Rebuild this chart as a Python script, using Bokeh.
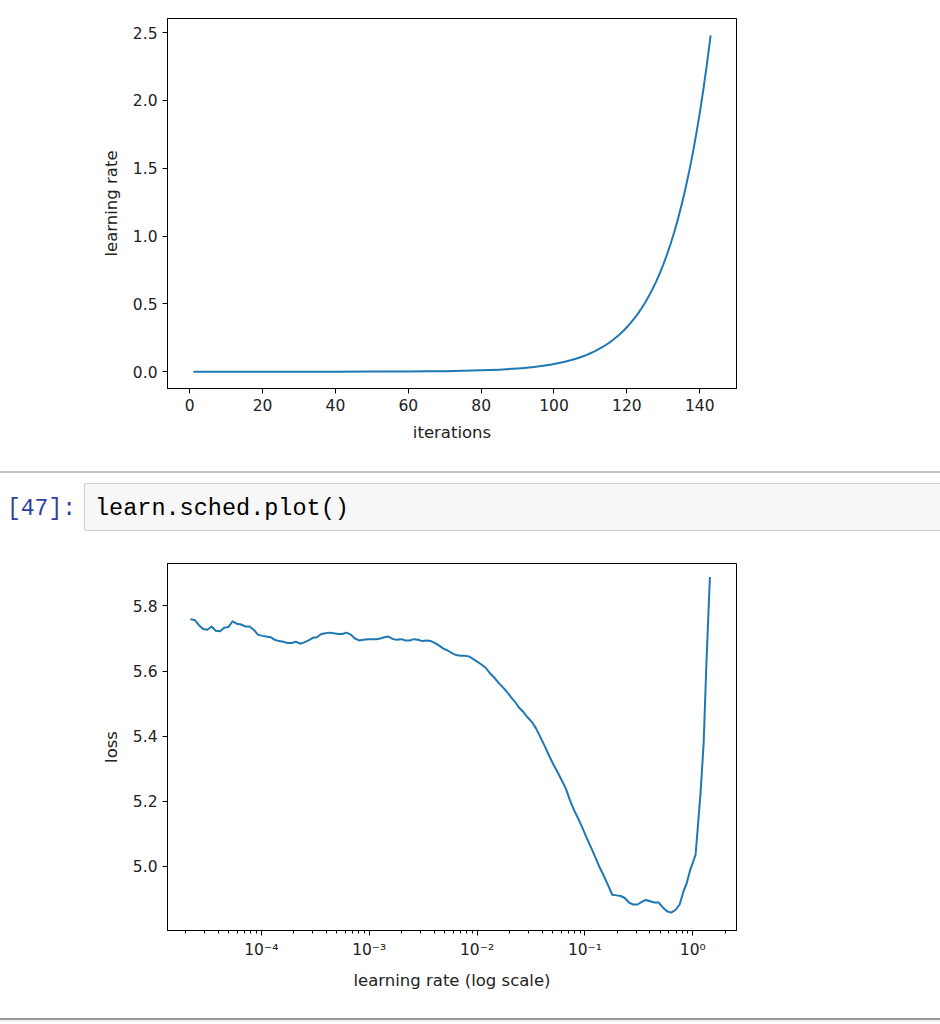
from bokeh.plotting import figure
from bokeh.layouts import column
from bokeh.models import (Range1d, FixedTicker, NumeralTickFormatter,
                          CustomJSTickFormatter, Div)
from bokeh.embed import file_html
from bokeh.resources import INLINE

# ---------------- data ----------------
# learning-rate schedule (top chart)
iterations = [1, 10, 20, 30, 40, 50, 60, 65, 70, 75, 80, 85,
              90, 91, 92, 93, 94, 95, 96, 97, 98, 99,
              100, 101, 102, 103, 104, 105, 106, 107, 108, 109,
              110, 111, 112, 113, 114, 115, 116, 117, 118, 119,
              120, 121, 122, 123, 124, 125, 126, 127, 128, 129,
              130, 131, 132, 133, 134, 135, 136, 137, 138, 139,
              140, 141, 142, 143]
sched_lr = [0.0000087, 0.000020, 0.000049, 0.000118, 0.000286, 0.00069, 0.00166, 0.00259, 0.0040, 0.00624, 0.0097, 0.01505,
            0.0233, 0.0255, 0.0278, 0.0304, 0.0332, 0.0363, 0.0396, 0.0432, 0.0472, 0.0516,
            0.0563, 0.0615, 0.0671, 0.0733, 0.0801, 0.0874, 0.0955, 0.1043, 0.1139, 0.1243,
            0.1358, 0.1483, 0.1619, 0.1768, 0.1931, 0.2109, 0.2303, 0.2515, 0.2746, 0.2999,
            0.3275, 0.3576, 0.3905, 0.4264, 0.4657, 0.5085, 0.5553, 0.6064, 0.6622, 0.7231,
            0.7897, 0.8623, 0.9417, 1.0283, 1.1230, 1.2263, 1.3391, 1.4623, 1.5969, 1.7439,
            1.9044, 2.0796, 2.2710, 2.4800]

# loss vs learning rate (bottom chart)
finder_lr = [2.20e-5, 2.41e-5, 2.64e-5, 2.89e-5, 3.16e-5, 3.46e-5, 3.78e-5, 4.14e-5, 4.53e-5, 4.95e-5,
             5.42e-5, 5.93e-5, 6.49e-5, 7.10e-5, 7.77e-5, 8.50e-5, 9.30e-5, 1.02e-4, 1.11e-4, 1.22e-4,
             1.33e-4, 1.46e-4, 1.60e-4, 1.75e-4, 1.91e-4, 2.09e-4, 2.29e-4, 2.50e-4, 2.74e-4, 3.00e-4,
             3.28e-4, 3.59e-4, 3.93e-4, 4.30e-4, 4.70e-4, 5.14e-4, 5.63e-4, 6.16e-4, 6.74e-4, 7.37e-4,
             8.07e-4, 8.83e-4, 9.66e-4, 1.06e-3, 1.16e-3, 1.27e-3, 1.38e-3, 1.51e-3, 1.66e-3, 1.81e-3,
             1.99e-3, 2.17e-3, 2.38e-3, 2.60e-3, 2.84e-3, 3.11e-3, 3.41e-3, 3.73e-3, 4.08e-3, 4.46e-3,
             4.88e-3, 5.34e-3, 5.85e-3, 6.40e-3, 7.00e-3, 7.66e-3, 8.38e-3, 9.17e-3, 1.00e-2, 1.10e-2,
             1.20e-2, 1.31e-2, 1.44e-2, 1.57e-2, 1.72e-2, 1.88e-2, 2.06e-2, 2.26e-2, 2.47e-2, 2.70e-2,
             2.95e-2, 3.23e-2, 3.54e-2, 3.87e-2, 4.24e-2, 4.63e-2, 5.07e-2, 5.55e-2, 6.07e-2, 6.64e-2,
             7.27e-2, 7.95e-2, 8.70e-2, 9.52e-2, 0.104, 0.114, 0.125, 0.136, 0.149, 0.163,
             0.179, 0.196, 0.214, 0.234, 0.256, 0.280, 0.307, 0.336, 0.367, 0.402,
             0.440, 0.481, 0.527, 0.576, 0.630, 0.690, 0.755,
             0.824, 0.873, 0.951, 1.00, 1.06, 1.10, 1.18, 1.26, 1.34, 1.44]
finder_loss = [5.759, 5.757, 5.741, 5.729, 5.727, 5.737, 5.724, 5.722, 5.733, 5.735,
               5.753, 5.745, 5.743, 5.737, 5.737, 5.727, 5.712, 5.708, 5.706, 5.704,
               5.696, 5.692, 5.690, 5.686, 5.686, 5.690, 5.684, 5.688, 5.694, 5.702,
               5.704, 5.714, 5.716, 5.718, 5.716, 5.714, 5.714, 5.718, 5.712, 5.700,
               5.694, 5.696, 5.698, 5.698, 5.698, 5.700, 5.704, 5.706, 5.698, 5.696,
               5.698, 5.694, 5.694, 5.698, 5.696, 5.692, 5.694, 5.692, 5.686, 5.678,
               5.669, 5.663, 5.655, 5.649, 5.647, 5.647, 5.645, 5.637, 5.629, 5.620,
               5.610, 5.594, 5.580, 5.565, 5.551, 5.537, 5.520, 5.504, 5.486, 5.473,
               5.457, 5.443, 5.422, 5.396, 5.369, 5.341, 5.314, 5.290, 5.265, 5.239,
               5.202, 5.171, 5.145, 5.116, 5.086, 5.057, 5.027, 4.998, 4.971, 4.943,
               4.912, 4.910, 4.908, 4.902, 4.888, 4.882, 4.882, 4.890, 4.896, 4.892,
               4.888, 4.888, 4.873, 4.861, 4.857, 4.865, 4.882,
               4.925, 4.945, 4.991, 5.011, 5.035, 5.100, 5.226, 5.379, 5.634, 5.889]

# ticks / labels
iter_ticks = [0, 20, 40, 60, 80, 100, 120, 140]
sched_lr_ticks = [0.0, 0.5, 1.0, 1.5, 2.0, 2.5]
loss_ticks = [5.0, 5.2, 5.4, 5.6, 5.8]
lr_tick_values = [1e-4, 1e-3, 1e-2, 1e-1, 1e0]
lr_tick_labels = ["10\u207b\u2074", "10\u207b\u00b3", "10\u207b\u00b2", "10\u207b\u00b9", "10\u2070"]
lr_minor_ticks = [m * 10.0 ** e for e in range(-5, 1) for m in range(2, 10)]

prompt_text = "[47]:"
code_text = "learn.sched.plot()"

# ---------------- styling ----------------
FONT = "DejaVu Sans"
LINE_COLOR = "#1f77b4"


def style(p):
    p.grid.visible = False
    p.outline_line_color = "black"
    p.outline_line_width = 1
    p.background_fill_color = "white"
    p.border_fill_color = "white"
    for ax in p.axis:
        ax.axis_line_color = "black"
        ax.axis_line_width = 1
        ax.major_tick_line_color = "black"
        ax.major_tick_line_width = 1
        ax.major_tick_in = 0
        ax.major_tick_out = 5
        ax.minor_tick_in = 0
        ax.minor_tick_out = 3
        ax.minor_tick_line_color = "black"
        ax.minor_tick_line_width = 1
        ax.major_label_text_font = FONT
        ax.major_label_text_font_size = "15.5px"
        ax.major_label_text_color = "#222222"
        ax.major_label_standoff = 5
        ax.axis_label_text_font = FONT
        ax.axis_label_text_font_size = "16.5px"
        ax.axis_label_text_font_style = "normal"
        ax.axis_label_text_color = "#222222"
        ax.axis_label_standoff = 9


# ---------------- top chart ----------------
p1 = figure(width=756, height=471, output_backend="svg", toolbar_location=None,
            x_range=Range1d(-6.1, 150.1), y_range=Range1d(-0.124, 2.604),
            min_border_left=167, min_border_right=20, min_border_top=18,
            min_border_bottom=83)
p1.line(iterations, sched_lr, line_color=LINE_COLOR, line_width=2, line_join="round")
style(p1)
p1.xaxis.ticker = FixedTicker(ticks=iter_ticks)
p1.yaxis.ticker = FixedTicker(ticks=sched_lr_ticks)
p1.yaxis.formatter = NumeralTickFormatter(format="0.0")
p1.xaxis.minor_tick_line_color = None
p1.yaxis.minor_tick_line_color = None
p1.xaxis.axis_label = "iterations"
p1.yaxis.axis_label = "learning rate"

# ---------------- notebook cell ----------------
mono = "'Liberation Mono', 'DejaVu Sans Mono', monospace"
cell = Div(text=f"""
<div style="position:relative;width:940px;height:82px;overflow:visible;">
  <div style="position:absolute;left:0px;top:0px;width:940px;height:0px;border-top:2px solid #c4c4c4;"></div>
  <div style="position:absolute;left:0px;top:25px;width:76px;text-align:right;font-family:{mono};font-size:23px;line-height:26px;color:#303f9f;white-space:pre;">{prompt_text}</div>
  <div style="position:absolute;left:84px;top:12px;width:870px;height:48px;background:#f7f7f7;border:1px solid #cfcfcf;border-radius:2px;"></div>
  <div style="position:absolute;left:95px;top:25px;font-family:{mono};font-size:23.5px;line-height:26px;color:#000000;white-space:pre;">{code_text}</div>
</div>""", width=940, height=82, margin=0)

# ---------------- bottom chart ----------------
p2 = figure(width=756, height=457, output_backend="svg", toolbar_location=None,
            x_axis_type="log",
            x_range=Range1d(1.35e-5, 2.54), y_range=Range1d(4.802, 5.9306),
            min_border_left=167, min_border_right=20, min_border_top=10,
            min_border_bottom=80)
p2.line(finder_lr, finder_loss, line_color=LINE_COLOR, line_width=2, line_join="round")
style(p2)
p2.xaxis.ticker = FixedTicker(ticks=lr_tick_values, minor_ticks=lr_minor_ticks)
p2.xaxis.formatter = CustomJSTickFormatter(
    args=dict(vals=lr_tick_values, labels=lr_tick_labels),
    code="""
    let best = 0; let bd = Infinity;
    for (let i = 0; i < vals.length; i++) {
        const d = Math.abs(Math.log10(tick) - Math.log10(vals[i]));
        if (d < bd) { bd = d; best = i; }
    }
    return labels[best];
    """)
p2.yaxis.ticker = FixedTicker(ticks=loss_ticks)
p2.yaxis.formatter = NumeralTickFormatter(format="0.0")
p2.yaxis.minor_tick_line_color = None
p2.xaxis.axis_label = "learning rate (log scale)"
p2.yaxis.axis_label = "loss"

bottom = Div(text="""
<div style="position:relative;width:940px;height:12px;overflow:visible;">
  <div style="position:absolute;left:0px;top:8px;width:940px;height:0px;border-top:2px solid #9a9a9a;"></div>
  <div style="position:absolute;left:0px;top:10px;width:940px;height:2px;background:#f4f4f4;"></div>
</div>""", width=940, height=12, margin=0)

layout = column(p1, cell, p2, bottom, spacing=0)

open("out.html", "w").write(file_html(layout, INLINE))
